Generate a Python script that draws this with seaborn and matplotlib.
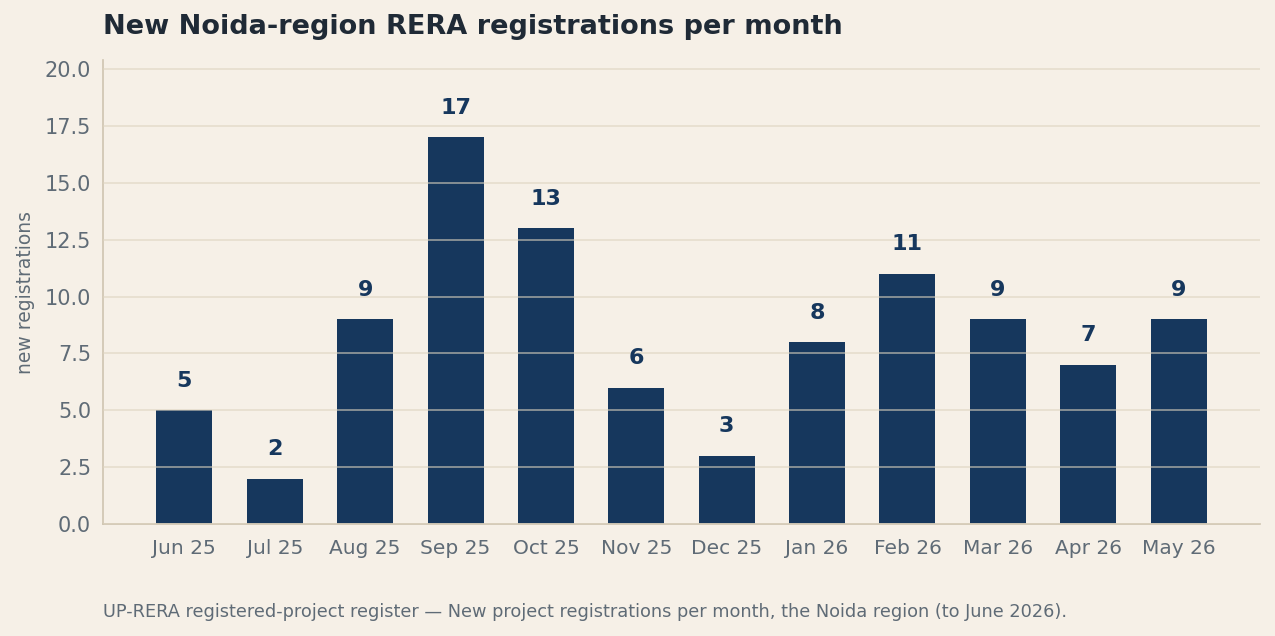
import numpy as np
import pandas as pd
import matplotlib
matplotlib.use("Agg")
import matplotlib.pyplot as plt
import seaborn as sns

# dados
meses = ["Jun 25", "Jul 25", "Aug 25", "Sep 25", "Oct 25", "Nov 25",
         "Dec 25", "Jan 26", "Feb 26", "Mar 26", "Apr 26", "May 26"]
registros = [5, 2, 9, 17, 13, 6, 3, 8, 11, 9, 7, 9]

fundo = "#f6f0e7"
azul = "#16375d"
cinza = "#5f6b76"

sns.set_theme(style="white")
plt.rcParams['font.family'] = ['DejaVu Sans']

df = pd.DataFrame({"mes": meses, "n": registros})

fig = plt.figure(figsize=(12.75, 6.36), dpi=100, facecolor=fundo)
ax = fig.add_axes([103 / 1275, 1 - 524 / 636, (1260 - 103) / 1275, (524 - 60) / 636])
ax.set_facecolor(fundo)

sns.barplot(data=df, x="mes", y="n", color=azul, width=0.62, saturation=1,
            linewidth=0, ax=ax)

ax.set_ylim(0, 20.4)
ax.set_xlim(-0.9, 11.9)
ax.set_yticks(np.arange(0, 20.1, 2.5))
ax.yaxis.set_major_formatter(matplotlib.ticker.FormatStrFormatter("%.1f"))

# grade por cima das barras
ax.set_axisbelow(False)
ax.grid(axis="y", color="#ddd4bf", alpha=0.65, linewidth=1.2)
ax.grid(axis="x", visible=False)

for lado in ["top", "right"]:
    ax.spines[lado].set_visible(False)
for lado in ["left", "bottom"]:
    ax.spines[lado].set_color("#cfc4b0")
    ax.spines[lado].set_linewidth(1.2)

ax.tick_params(axis="both", colors=cinza, length=5, width=1.2)
ax.tick_params(axis="x", labelsize=14.5, pad=6)
ax.tick_params(axis="y", labelsize=15)
for t in ax.get_xticklabels() + ax.get_yticklabels():
    t.set_color(cinza)

ax.bar_label(ax.containers[0], labels=[str(v) for v in registros], padding=14,
             color=azul, fontsize=16, fontweight="bold")

ax.set_xlabel("")
ax.set_ylabel("new registrations", color=cinza, fontsize=13.5)
ax.yaxis.set_label_coords(-0.059, 0.5)

fig.text(103 / 1275, 1 - 27 / 636, "New Noida-region RERA registrations per month",
         fontsize=19.5, fontweight="bold", color="#1f2a36", va="center", ha="left")
fig.text(103 / 1275, 1 - 612 / 636,
         "UP-RERA registered-project register \u2014 New project registrations per month, the Noida region (to June 2026).",
         fontsize=12.8, color=cinza, va="center", ha="left")

fig.savefig("out.png", dpi=100, facecolor=fundo)
